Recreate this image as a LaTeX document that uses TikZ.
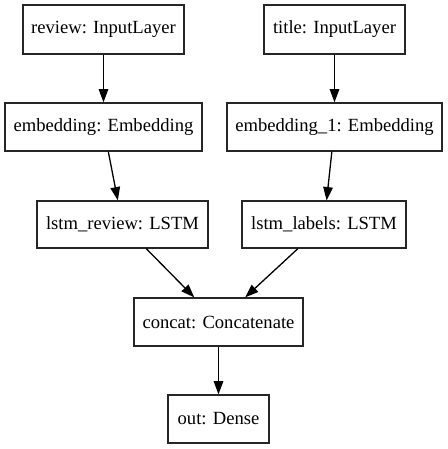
\documentclass[tikz,border=0pt]{standalone}
\usepackage{fontspec}
\setmainfont{Liberation Serif}
\usetikzlibrary{arrows.meta}
\begin{document}
\begin{tikzpicture}[x=1pt,y=-1pt,
  layer/.style={draw=black!85, line width=1.3pt, rectangle, inner sep=0pt, font=\fontsize{18.6}{20}\selectfont},
  conn/.style={draw=black, line width=1.3pt, -{Triangle[length=13.3pt,width=9.6pt]}}]
\useasboundingbox (0,0) rectangle (447,449);
\node[layer, minimum width=161pt, minimum height=49pt] (review) at (103.5,29.5) {review: InputLayer};
\node[layer, minimum width=141pt, minimum height=49pt] (title) at (334.5,29.5) {title: InputLayer};
\node[layer, minimum width=197pt, minimum height=48pt] (emb) at (103.5,127) {embedding: Embedding};
\node[layer, minimum width=215pt, minimum height=48pt] (emb1) at (334.5,127) {embedding\_1: Embedding};
\node[layer, minimum width=171pt, minimum height=47pt] (lstmr) at (122.5,224.5) {lstm\_review: LSTM};
\node[layer, minimum width=164pt, minimum height=47pt] (lstml) at (324,224.5) {lstm\_labels: LSTM};
\node[layer, minimum width=169pt, minimum height=48pt] (concat) at (218.5,322) {concat: Concatenate};
\node[layer, minimum width=101pt, minimum height=48pt] (out) at (218.5,419) {out: Dense};
\draw[conn] (review) -- (emb);
\draw[conn] (title) -- (emb1);
\draw[conn] (emb) -- (lstmr);
\draw[conn] (emb1) -- (lstml);
\draw[conn] (lstmr) -- (concat);
\draw[conn] (lstml) -- (concat);
\draw[conn] (concat) -- (out);
\end{tikzpicture}
\end{document}
